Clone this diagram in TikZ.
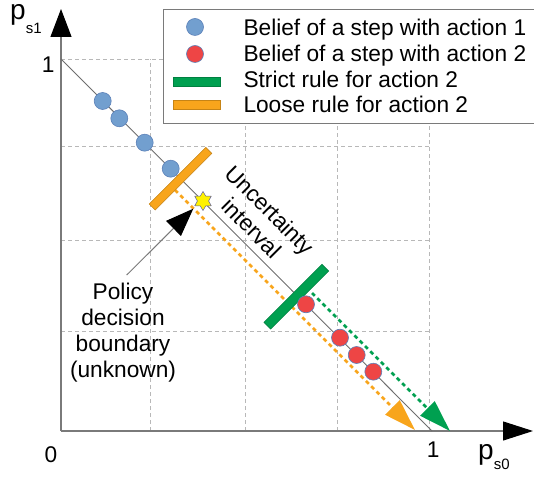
\documentclass[tikz,border=0pt]{standalone}
\usepackage{fontspec}
\setmainfont{Liberation Sans}
\usetikzlibrary{arrows.meta,shapes.geometric}

\definecolor{beliefblue}{HTML}{729FCF}
\definecolor{beliefred}{HTML}{EE4545}
\definecolor{beliefedge}{HTML}{5B80B8}
\definecolor{rulegreen}{HTML}{00A050}
\definecolor{ruleorange}{HTML}{F8A51C}
\definecolor{gridgray}{HTML}{B8B8B8}
\definecolor{axisgray}{HTML}{7A7A7A}

\tikzset{
  labeltext/.style={font=\fontsize{22.7}{25.8}\selectfont, inner sep=0pt},
  gridline/.style={draw=gridgray, line width=0.9pt, dash pattern=on 4pt off 3pt},
  axisline/.style={draw=axisgray, line width=1.1pt},
  diagline/.style={draw=axisgray!90!black, line width=0.9pt},
  belief/.style={circle, minimum size=17pt, inner sep=0pt, fill=#1,
                 draw=beliefedge, line width=0.6pt},
  rulebar/.style={rectangle, inner sep=0pt, minimum height=8.5pt, fill=#1,
                  draw=#1!80!black, line width=0.6pt},
  ruletrace/.style={draw=#1, line width=2.8pt, dash pattern=on 4pt off 3.5pt,
                    -{Triangle[length=32pt,width=20pt,color=#1]}},
}

\begin{document}
\begin{tikzpicture}[x=1pt,y=1pt]
\useasboundingbox (0,0) rectangle (534,476);

% dashed grid of the unit square
\foreach \gx in {150,245,337,429.5} \draw[gridline] (\gx,45) -- (\gx,417);
\foreach \gy in {145,236,330,417} \draw[gridline] (61,\gy) -- (429.5,\gy);

% legend frame (open on the right)
\path[fill=white, draw=axisgray, line width=1pt]
  (540,466) -- (163,466) -- (163,352.5) -- (540,352.5);
\node[belief=beliefblue] (legA) at (195,449) {};
\node[belief=beliefred]  (legB) at (195,422) {};
\node[rulebar=rulegreen, minimum width=47pt, minimum height=9pt] (legC) at (196.5,394) {};
\node[rulebar=ruleorange, minimum width=47pt] (legD) at (196.5,371) {};
\node[labeltext, anchor=base west] (legAt) at (243.3,440.3) {Belief of a step with action 1};
\node[labeltext, anchor=base west] (legBt) at (243.3,414.3) {Belief of a step with action 2};
\node[labeltext, anchor=base west] (legCt) at (243.3,388.7) {Strict rule for action 2};
\node[labeltext, anchor=base west] (legDt) at (243.3,363.7) {Loose rule for action 2};

% axes
\coordinate (O) at (61,45);
\coordinate (ytop) at (61,467);
\coordinate (xend) at (533,45);
\draw[axisline, -{Triangle[length=28pt,width=21pt,color=black]}] (O) -- (ytop);
\draw[axisline, -{Triangle[length=30pt,width=19pt,color=black]}] (O) -- (xend);

% axis labels
\node[anchor=base west, inner sep=0pt] (ps1) at (10,456.5)
  {\fontsize{28}{28}\selectfont p\raisebox{-13.8pt}{\fontsize{15}{15}\selectfont s1}};
\node[anchor=base west, inner sep=0pt] (ps0) at (478,16.5)
  {\fontsize{28}{28}\selectfont p\raisebox{-9.8pt}{\fontsize{15}{15}\selectfont s0}};
\node[labeltext] (yone) at (48.3,411) {1};
\node[labeltext] (zero) at (51,21) {0};
\node[labeltext] (xone) at (433.3,26) {1};

% belief simplex p_s0 + p_s1 = 1
\coordinate (d1) at (61,417);
\coordinate (d0) at (432,45);
\draw[diagline] (d1) -- (d0);

% shifted decision traces
\coordinate (ostart) at (175,286);
\coordinate (oend) at (415,46);
\draw[ruletrace=ruleorange] (ostart) -- (oend);
\coordinate (gstart) at (312,183);
\coordinate (gend) at (450,45);
\draw[ruletrace=rulegreen] (gstart) -- (gend);

% strict rule bar
\node[rulebar=rulegreen, minimum width=82pt, minimum height=9.5pt, rotate=45] (strict) at (296.3,179.3) {};

% beliefs
\node[belief=beliefblue] (b1) at (102.7,375) {};
\node[belief=beliefblue] (b2) at (119.3,357.7) {};
\node[belief=beliefblue] (b3) at (144.7,333.3) {};
\node[belief=beliefblue] (b4) at (170.7,307.3) {};
\node[belief=beliefred] (r1) at (306,171.7) {};
\node[belief=beliefred] (r2) at (340,138.3) {};
\node[belief=beliefred] (r3) at (356.7,121) {};
\node[belief=beliefred] (r4) at (373.3,104.3) {};

% loose rule bar
\node[rulebar=ruleorange, minimum width=80pt, rotate=45] (loose) at (180.5,297.3) {};

% true (unknown) decision boundary
\node[star, star points=6, star point ratio=1.7, minimum size=19pt, inner sep=0pt,
      fill=yellow, draw=gray!70!blue, line width=0.5pt] (boundary) at (203,275) {};

% annotations
\node[labeltext, align=center, rotate=-45] (interval) at (261,257) {Uncertainty\\interval};
\node[labeltext, align=center, anchor=north] (policy) at (123,193)
  {Policy\\decision\\boundary\\(unknown)};
\coordinate (pstart) at (126.7,201);
\coordinate (ptip) at (193.3,267.3);
\draw[draw=axisgray, line width=1pt, -{Triangle[length=28pt,width=21pt,color=black]}] (pstart) -- (ptip);
\end{tikzpicture}
\end{document}
